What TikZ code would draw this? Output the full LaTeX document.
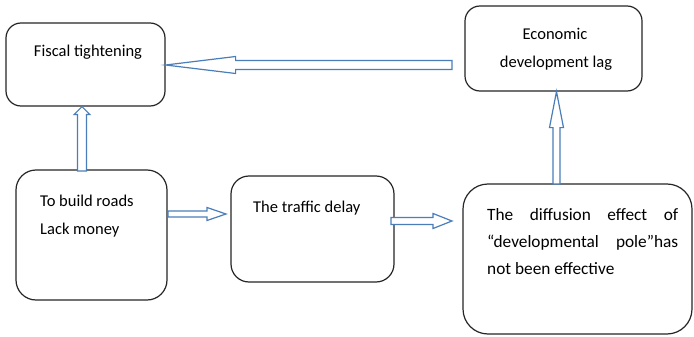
\documentclass[tikz,border=0pt]{standalone}
\usepackage{fontspec}
\setmainfont{Carlito}
\usetikzlibrary{calc}
\definecolor{arrowblue}{HTML}{4A7EBB}
\tikzset{
  box/.style={draw=black!85, line width=1.2pt, fill=white, inner sep=0pt},
  txt/.style={inner sep=0pt, anchor=base west, font=\fontsize{16.5}{28}\selectfont, text=black},
  blockarr/.style={draw=arrowblue, line width=1.2pt, fill=white, line join=miter}
}
% #1 start, #2 end, #3 shaft half width, #4 head half width, #5 head length
\newcommand{\blockarrow}[5]{%
  \draw[blockarr]
    ($(#1)!#3!90:(#2)$) --
    ($($(#2)!#5!(#1)$)!#3!90:(#2)$) --
    ($($(#2)!#5!(#1)$)!#4!90:(#2)$) --
    (#2) --
    ($($(#2)!#5!(#1)$)!#4!-90:(#2)$) --
    ($($(#2)!#5!(#1)$)!#3!-90:(#2)$) --
    ($(#1)!#3!-90:(#2)$) -- cycle;
}
\begin{document}
\begin{tikzpicture}[x=1pt,y=-1pt]
\useasboundingbox[fill=white] (0,0) rectangle (694,337);

% boxes
\node[box, rounded corners=15pt, minimum width=159pt, minimum height=83pt] (fiscal) at (85.5,64.5) {};
\node[box, rounded corners=15pt, minimum width=177pt, minimum height=85pt] (econ) at (553.5,48.5) {};
\node[box, rounded corners=20pt, minimum width=151pt, minimum height=130pt] (roads) at (91.5,235) {};
\node[box, rounded corners=18pt, minimum width=163pt, minimum height=106pt] (traffic) at (312.5,229) {};
\node[box, rounded corners=25pt, minimum width=229pt, minimum height=150pt] (diff) at (577.5,259) {};

% texts
\node[txt, anchor=base] (t1) at (88,57) {Fiscal tightening};
\node[txt, anchor=base] (t2a) at (555,40) {Economic};
\node[txt, anchor=base] (t2b) at (556,68) {development lag};
\node[txt] (t3a) at (40,206) {To build roads};
\node[txt] (t3b) at (40,234) {Lack money};
\node[txt] (t4) at (253,212) {The traffic delay};
\node[txt, font=\fontsize{17.3}{28}\selectfont] (t5a) at (487,220) {\hbox to 191pt{The\hfill diffusion\hfill effect\hfill of}};
\node[txt, font=\fontsize{17.3}{28}\selectfont] (t5b) at (487,247) {\hbox to 191pt{“developmental\hfill pole”has}};
\node[txt, font=\fontsize{17.3}{28}\selectfont] (t5c) at (487,274) {not been effective};

% connector end points
\coordinate (a1s) at (452,65);
\coordinate (a1e) at (fiscal.east |- a1s);
\coordinate (a2s) at (82,171);
\coordinate (a2e) at (a2s |- fiscal.south);
\coordinate (a3s) at (168,214);
\coordinate (a3e) at (226,214);
\coordinate (a4s) at (391,221);
\coordinate (a4e) at (452,221);
\coordinate (a5s) at (556.5,184);
\coordinate (a5e) at (a5s |- econ.south);

\blockarrow{a1s}{a1e}{4.5pt}{8.5pt}{70pt}
\blockarrow{a2s}{a2e}{4.5pt}{8pt}{8pt}
\blockarrow{a3s}{a3e}{3pt}{6.5pt}{19pt}
\blockarrow{a4s}{a4e}{3.5pt}{7.5pt}{19pt}
\blockarrow{a5s}{a5e}{3.5pt}{7pt}{36pt}
\end{tikzpicture}
\end{document}
